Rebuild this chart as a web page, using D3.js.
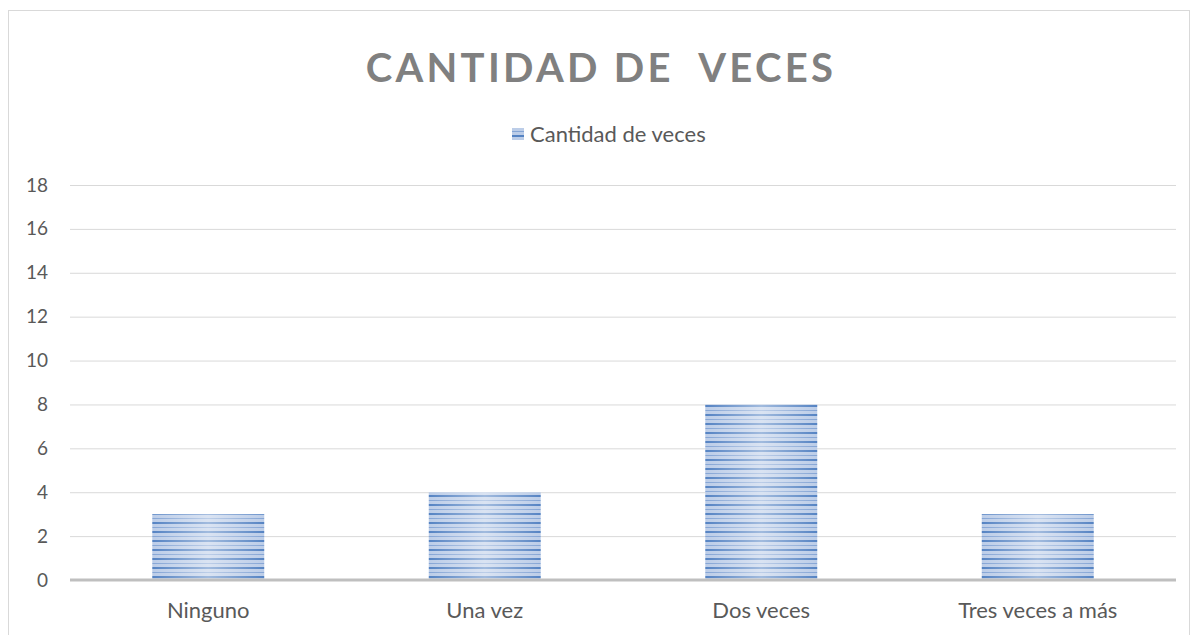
<!DOCTYPE html>
<html>
<head>
<meta charset="utf-8">
<script src="https://cdn.jsdelivr.net/npm/d3@7"></script>
<style>
  body { margin: 0; background: #fff; }
  text { font-family: Lato, "Open Sans", sans-serif; }
</style>
</head>
<body>
<div class="chart"></div>
<script>
const categories = ['Ninguno', 'Una vez', 'Dos veces', 'Tres veces a más']
const values = [3, 4, 8, 3]
const yTicks = [0, 2, 4, 6, 8, 10, 12, 14, 16, 18]
const seriesName = 'Cantidad de veces'
const title = 'CANTIDAD DE  VECES'

const W = 1193, H = 635
const plotLeft = 70, plotRight = 1176, plotTop = 185, plotBottom = 580

let svg = d3.select('.chart').append('svg')
    .attr('width', W)
    .attr('height', H)

// chart frame
svg.append('rect')
    .attr('x', 8.5).attr('y', 10.5)
    .attr('width', 1181).attr('height', 660)
    .attr('fill', 'none')
    .attr('stroke', '#d9d9d9')

let defs = svg.append('defs')
let pat = defs.append('pattern')
    .attr('id', 'stripes')
    .attr('patternUnits', 'userSpaceOnUse')
    .attr('width', 10).attr('height', 9)
pat.append('rect').attr('width', 10).attr('height', 9).attr('fill', '#bccde8')
pat.append('rect').attr('y', 0).attr('width', 10).attr('height', 2).attr('fill', '#5583c3')
pat.append('rect').attr('y', 5).attr('width', 10).attr('height', 1).attr('fill', '#85a5d5')

let grad = defs.append('linearGradient')
    .attr('id', 'shine')
    .attr('x1', '0%').attr('x2', '100%')
    .attr('y1', '0%').attr('y2', '0%')
grad.append('stop').attr('offset', '0%').attr('stop-color', '#fff').attr('stop-opacity', 0)
grad.append('stop').attr('offset', '50%').attr('stop-color', '#fff').attr('stop-opacity', 0.45)
grad.append('stop').attr('offset', '100%').attr('stop-color', '#fff').attr('stop-opacity', 0)

let x = d3.scaleBand()
    .domain(categories)
    .range([plotLeft, plotRight])
    .paddingInner(0.595)
    .paddingOuter(0.2975)

let y = d3.scaleLinear()
    .domain([0, 18])
    .range([plotBottom, plotTop])

// gridlines
svg.append('g')
    .selectAll('line')
    .data(yTicks.filter(d => d > 0))
    .join('line')
    .attr('x1', plotLeft).attr('x2', plotRight)
    .attr('y1', d => y(d) + 0.5).attr('y2', d => y(d) + 0.5)
    .attr('stroke', '#d9d9d9')
    .attr('stroke-width', 1)

// y axis labels
let yAxis = svg.append('g')
    .attr('transform', `translate(${plotLeft}, 0)`)
    .call(d3.axisLeft(y).tickValues(yTicks).tickSize(0).tickPadding(22))
yAxis.select('.domain').remove()
yAxis.selectAll('text')
    .style('font-size', '19px')
    .style('fill', '#595959')

// bars
let bars = svg.append('g')
bars.selectAll('rect.bar')
    .data(values)
    .join('rect')
    .attr('class', 'bar')
    .attr('x', (d, i) => x(categories[i]))
    .attr('y', d => y(d))
    .attr('width', x.bandwidth())
    .attr('height', d => y(0) - y(d))
    .attr('fill', 'url(#stripes)')
bars.selectAll('rect.shine')
    .data(values)
    .join('rect')
    .attr('class', 'shine')
    .attr('x', (d, i) => x(categories[i]))
    .attr('y', d => y(d))
    .attr('width', x.bandwidth())
    .attr('height', d => y(0) - y(d))
    .attr('fill', 'url(#shine)')

// zero line
svg.append('line')
    .attr('x1', plotLeft).attr('x2', plotRight)
    .attr('y1', y(0)).attr('y2', y(0))
    .attr('stroke', '#bfbfbf')
    .attr('stroke-width', 3)

// x axis labels
let xAxis = svg.append('g')
    .attr('transform', `translate(0, ${plotBottom})`)
    .call(d3.axisBottom(x).tickSize(0).tickPadding(22))
xAxis.select('.domain').remove()
xAxis.selectAll('text')
    .style('font-size', '22px')
    .style('fill', '#595959')

// title
svg.append('text')
    .attr('x', 601).attr('y', 82)
    .attr('text-anchor', 'middle')
    .style('font-size', '40px')
    .style('font-weight', 'bold')
    .style('letter-spacing', '3.3px')
    .style('fill', '#808080')
    .style('white-space', 'pre')
    .text(title)

// legend
let lg = svg.append('g')
lg.append('rect')
    .attr('x', 512).attr('y', 128)
    .attr('width', 12).attr('height', 12)
    .attr('fill', 'url(#stripes)')
lg.append('text')
    .attr('x', 530).attr('y', 142)
    .style('font-size', '22px')
    .style('fill', '#595959')
    .text(seriesName)
</script>
</body>
</html>
